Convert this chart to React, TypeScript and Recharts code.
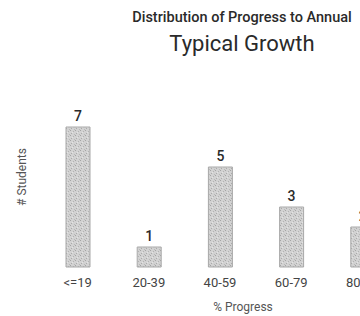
import { Bar, BarChart, LabelList, XAxis, YAxis } from 'recharts'

const categories = ['<=19', '20-39', '40-59', '60-79', '80-99']
const students = [7, 1, 5, 3, 2]

const chartData = categories.map((range, i) => ({ range, count: students[i] }))

const font = 'Roboto, "Noto Sans", sans-serif'

export default function App() {
  return (
    <div
      style={{
        position: 'fixed',
        left: 0,
        top: 0,
        width: 360,
        height: 316,
        overflow: 'hidden',
        background: '#fff',
        fontFamily: font,
      }}
    >
      <div
        style={{
          position: 'absolute',
          left: 42,
          width: 400,
          top: 9,
          textAlign: 'center',
          fontSize: 14.5,
          fontWeight: 500,
          color: '#2a2a2a',
          lineHeight: '18px',
        }}
      >
        Distribution of Progress to Annual
      </div>
      <div
        style={{
          position: 'absolute',
          left: 42,
          width: 400,
          top: 31,
          textAlign: 'center',
          fontSize: 22,
          color: '#2a2a2a',
          lineHeight: '26px',
        }}
      >
        Typical Growth
      </div>
      <div
        style={{
          position: 'absolute',
          left: -28,
          top: 170,
          width: 100,
          textAlign: 'center',
          fontSize: 12,
          color: '#555',
          transform: 'rotate(-90deg)',
        }}
      >
        # Students
      </div>
      <div style={{ position: 'absolute', left: 0, top: 0 }}>
        <BarChart
          width={500}
          height={316}
          data={chartData}
          margin={{ top: 127, right: 102, bottom: 0, left: 42 }}
        >
          <defs>
            <pattern id="stipple" width="5" height="5" patternUnits="userSpaceOnUse">
              <rect width="5" height="5" fill="#d2d2d2" />
              <rect x="0" y="0" width="1" height="1" fill="#a4a4a4" />
              <rect x="3" y="1" width="1" height="1" fill="#b2b2b2" />
              <rect x="1" y="3" width="1" height="1" fill="#aaaaaa" />
              <rect x="4" y="4" width="1" height="1" fill="#b8b8b8" />
              <rect x="2" y="2" width="1" height="1" fill="#e4e4e4" />
            </pattern>
          </defs>
          <XAxis
            dataKey="range"
            height={49}
            axisLine={false}
            tickLine={false}
            tickMargin={5}
            tick={{ fontSize: 13, fill: '#444', fontFamily: font }}
            interval={0}
            label={{
              value: '% Progress',
              position: 'insideBottom',
              offset: 5,
              dx: 23,
              fontSize: 12,
              fill: '#555',
              fontFamily: font,
            }}
          />
          <YAxis hide domain={[0, 7]} />
          <Bar
            dataKey="count"
            barSize={24}
            fill="url(#stipple)"
            stroke="#a8a8a8"
            strokeWidth={1}
            isAnimationActive={false}
          >
            <LabelList
              dataKey="count"
              position="top"
              offset={6}
              style={{ fontSize: 14, fontWeight: 500, fill: '#2a2a2a', fontFamily: font }}
            />
          </Bar>
        </BarChart>
      </div>
    </div>
  )
}
